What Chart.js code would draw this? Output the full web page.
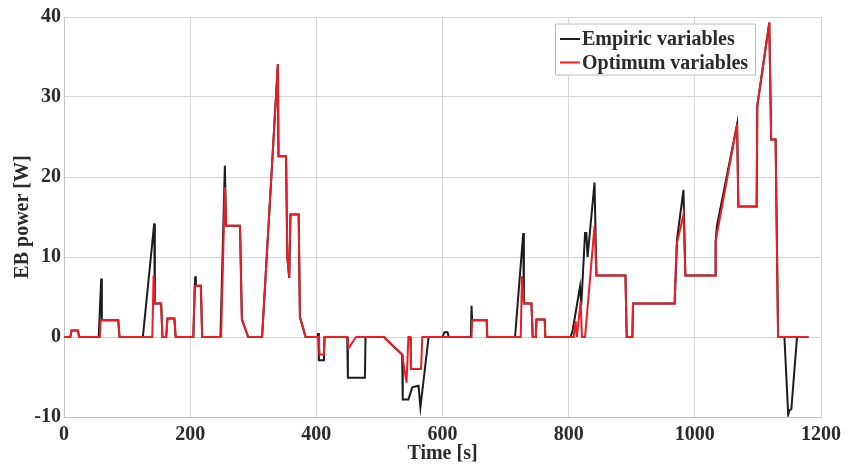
<!DOCTYPE html>
<html>
<head>
<meta charset="utf-8">
<script src="https://cdn.jsdelivr.net/npm/chart.js@4.4.1/dist/chart.umd.min.js"></script>
<style>
  html, body { margin: 0; padding: 0; background: #ffffff; }
  #wrap { width: 847px; height: 467px; position: relative; }
</style>
</head>
<body>
<div id="wrap"><canvas id="c" width="847" height="467"></canvas></div>
<script>
// ---- data ----
const seriesNames = ["Empiric variables", "Optimum variables"];
const xTickValues = [0, 200, 400, 600, 800, 1000, 1200];
const yTickValues = [-10, 0, 10, 20, 30, 40];

const empiricTime = [0,10,12,22,24,55,59,60,86,88,125,143,144,154,156,162,164,175,177,205,208,209,217,219,248,255,257,279,282,292,314,339,340,352,354,357,359,372,374,383,402,403,404,412,413,449,450,477,478,507,528,536,537,546,552,562,565,578,600,603,608,610,645,646,647,670,671,715,728,729,741,743,748,749,762,763,803,806,818,820,826,828,830,841,844,890,892,901,902,968,972,982,985,1032,1033,1035,1067,1069,1098,1099,1118,1121,1128,1132,1142,1148,1150,1153,1162,1180];
const empiricPower = [0,0,0.8,0.8,0,0,7.3,2.1,2.1,0,0,14.2,4.2,4.2,0,0,2.3,2.3,0,0,7.6,6.4,6.4,0,0,21.4,13.9,13.9,2.2,0,0,34.1,22.6,22.6,10,7.4,15.3,15.3,2.5,0,0,0.5,-2.9,-2.9,0,0,-5.1,-5.1,0,0,-1.6,-2.2,-7.8,-7.8,-6.3,-6.1,-8.8,0,0,0.6,0.6,0,0,3.9,2.1,2.1,0,0,13,4.2,4.2,0,0,2.2,2.2,0,0,0.7,6.3,4,13,13,10,19.3,7.7,7.7,0,0,4.2,4.2,12.4,18.4,7.7,7.7,12,13.9,26.6,16.3,16.3,28.9,39.3,24.7,24.7,0,0,-9.7,-9.2,-9,0,0];

const optimumTime = [0,10,12,22,24,57,58,86,88,140,142,144,154,156,162,164,175,177,205,207,217,219,249,255,257,279,282,292,314,339,340,352,354,357,359,372,374,383,404,405,412,413,449,451,463,507,528,536,543,546,549,550,566,568,646,647,670,671,724,726,729,741,743,748,749,762,763,808,811,813,819,821,826,841,844,890,892,901,902,968,971,982,985,1032,1033,1067,1069,1098,1099,1118,1121,1128,1132,1180];
const optimumPower = [0,0,0.8,0.8,0,0,2.1,2.1,0,0,7.7,4.2,4.2,0,0,2.3,2.3,0,0,6.4,6.4,0,0,18.7,13.9,13.9,2.2,0,0,34.1,22.6,22.6,10,7.4,15.3,15.3,2.5,0,0,-2.2,-2.2,0,0,-1.4,0,0,-1.6,-2.2,-5.7,0,0,-4,-4,0,0,2.1,2.1,0,0,7.6,4.2,4.2,0,0,2.2,2.2,0,0,2,0,4.5,0,0,13.9,7.7,7.7,0,0,4.2,4.2,11.5,15.3,7.7,7.7,12,26.6,16.3,16.3,28.9,39.3,24.7,24.7,0,0];

const toPoints = (xs, ys) => xs.map((x, i) => ({ x: x, y: ys[i] }));

const FONT = "'Liberation Serif', 'Times New Roman', serif";
const TEXT_COLOR = '#2a2a2a';
const FS = 20;

const insideLegend = {
  id: 'insideLegend',
  afterDraw(chart) {
    const ctx = chart.ctx;
    const area = chart.chartArea;
    const boxRight = area.right - 65;
    const boxLeft = boxRight - 201;
    const boxTop = area.top + 6.5;
    const boxH = 52;
    ctx.save();
    ctx.fillStyle = '#ffffff';
    ctx.fillRect(boxLeft, boxTop, boxRight - boxLeft, boxH);
    ctx.strokeStyle = '#bdbdbd';
    ctx.lineWidth = 1;
    ctx.strokeRect(boxLeft + 0.5, boxTop + 0.5, boxRight - boxLeft - 1, boxH - 1);
    ctx.font = 'bold ' + FS + 'px ' + FONT;
    ctx.textBaseline = 'middle';
    ctx.textAlign = 'left';
    chart.data.datasets.forEach((ds, i) => {
      const y = boxTop + 15.5 + i * 23.5;
      ctx.strokeStyle = ds.borderColor;
      ctx.lineWidth = 2;
      ctx.beginPath();
      ctx.moveTo(boxLeft + 5, y);
      ctx.lineTo(boxLeft + 25, y);
      ctx.stroke();
      ctx.fillStyle = TEXT_COLOR;
      ctx.fillText(ds.label, boxLeft + 27, y + 1);
    });
    ctx.restore();
  }
};

new Chart(document.getElementById('c'), {
  type: 'line',
  data: {
    datasets: [
      {
        label: seriesNames[0],
        data: toPoints(empiricTime, empiricPower),
        borderColor: '#1c1c1c',
        borderWidth: 2,
        pointRadius: 0,
        tension: 0,
        fill: false,
        order: 2
      },
      {
        label: seriesNames[1],
        data: toPoints(optimumTime, optimumPower),
        borderColor: '#ee1c24',
        borderWidth: 2,
        pointRadius: 0,
        tension: 0,
        fill: false,
        order: 1
      }
    ]
  },
  options: {
    responsive: false,
    animation: false,
    layout: { padding: { top: 17, right: 26, bottom: 0, left: 0 } },
    plugins: {
      legend: { display: false },
      tooltip: { enabled: false }
    },
    scales: {
      x: {
        type: 'linear',
        min: 0,
        max: 1200,
        afterBuildTicks(scale) { scale.ticks = xTickValues.map(v => ({ value: v })); },
        afterFit(scale) { scale.height = 50; },
        ticks: {
          font: { family: FONT, size: FS, weight: 'bold' },
          color: TEXT_COLOR,
          padding: 6,
          maxRotation: 0,
          callback: (v) => String(v)
        },
        grid: { color: '#d6d6d6', lineWidth: 1, drawTicks: false },
        border: { color: '#c4c4c4', width: 1 },
        title: {
          display: true,
          text: 'Time [s]',
          font: { family: FONT, size: FS, weight: 'bold' },
          color: TEXT_COLOR,
          padding: { top: 0, bottom: 1 }
        }
      },
      y: {
        type: 'linear',
        min: -10,
        max: 40,
        afterBuildTicks(scale) { scale.ticks = yTickValues.map(v => ({ value: v })); },
        afterFit(scale) { scale.width = 64; },
        ticks: {
          font: { family: FONT, size: FS, weight: 'bold' },
          color: TEXT_COLOR,
          padding: 3,
          callback: (v) => String(v)
        },
        grid: { color: '#d6d6d6', lineWidth: 1, drawTicks: false },
        border: { color: '#c4c4c4', width: 1 },
        title: {
          display: true,
          text: 'EB power [W]',
          font: { family: FONT, size: FS, weight: 'bold' },
          color: TEXT_COLOR,
          padding: { top: 11, bottom: 0 }
        }
      }
    }
  },
  plugins: [insideLegend]
});
</script>
</body>
</html>
